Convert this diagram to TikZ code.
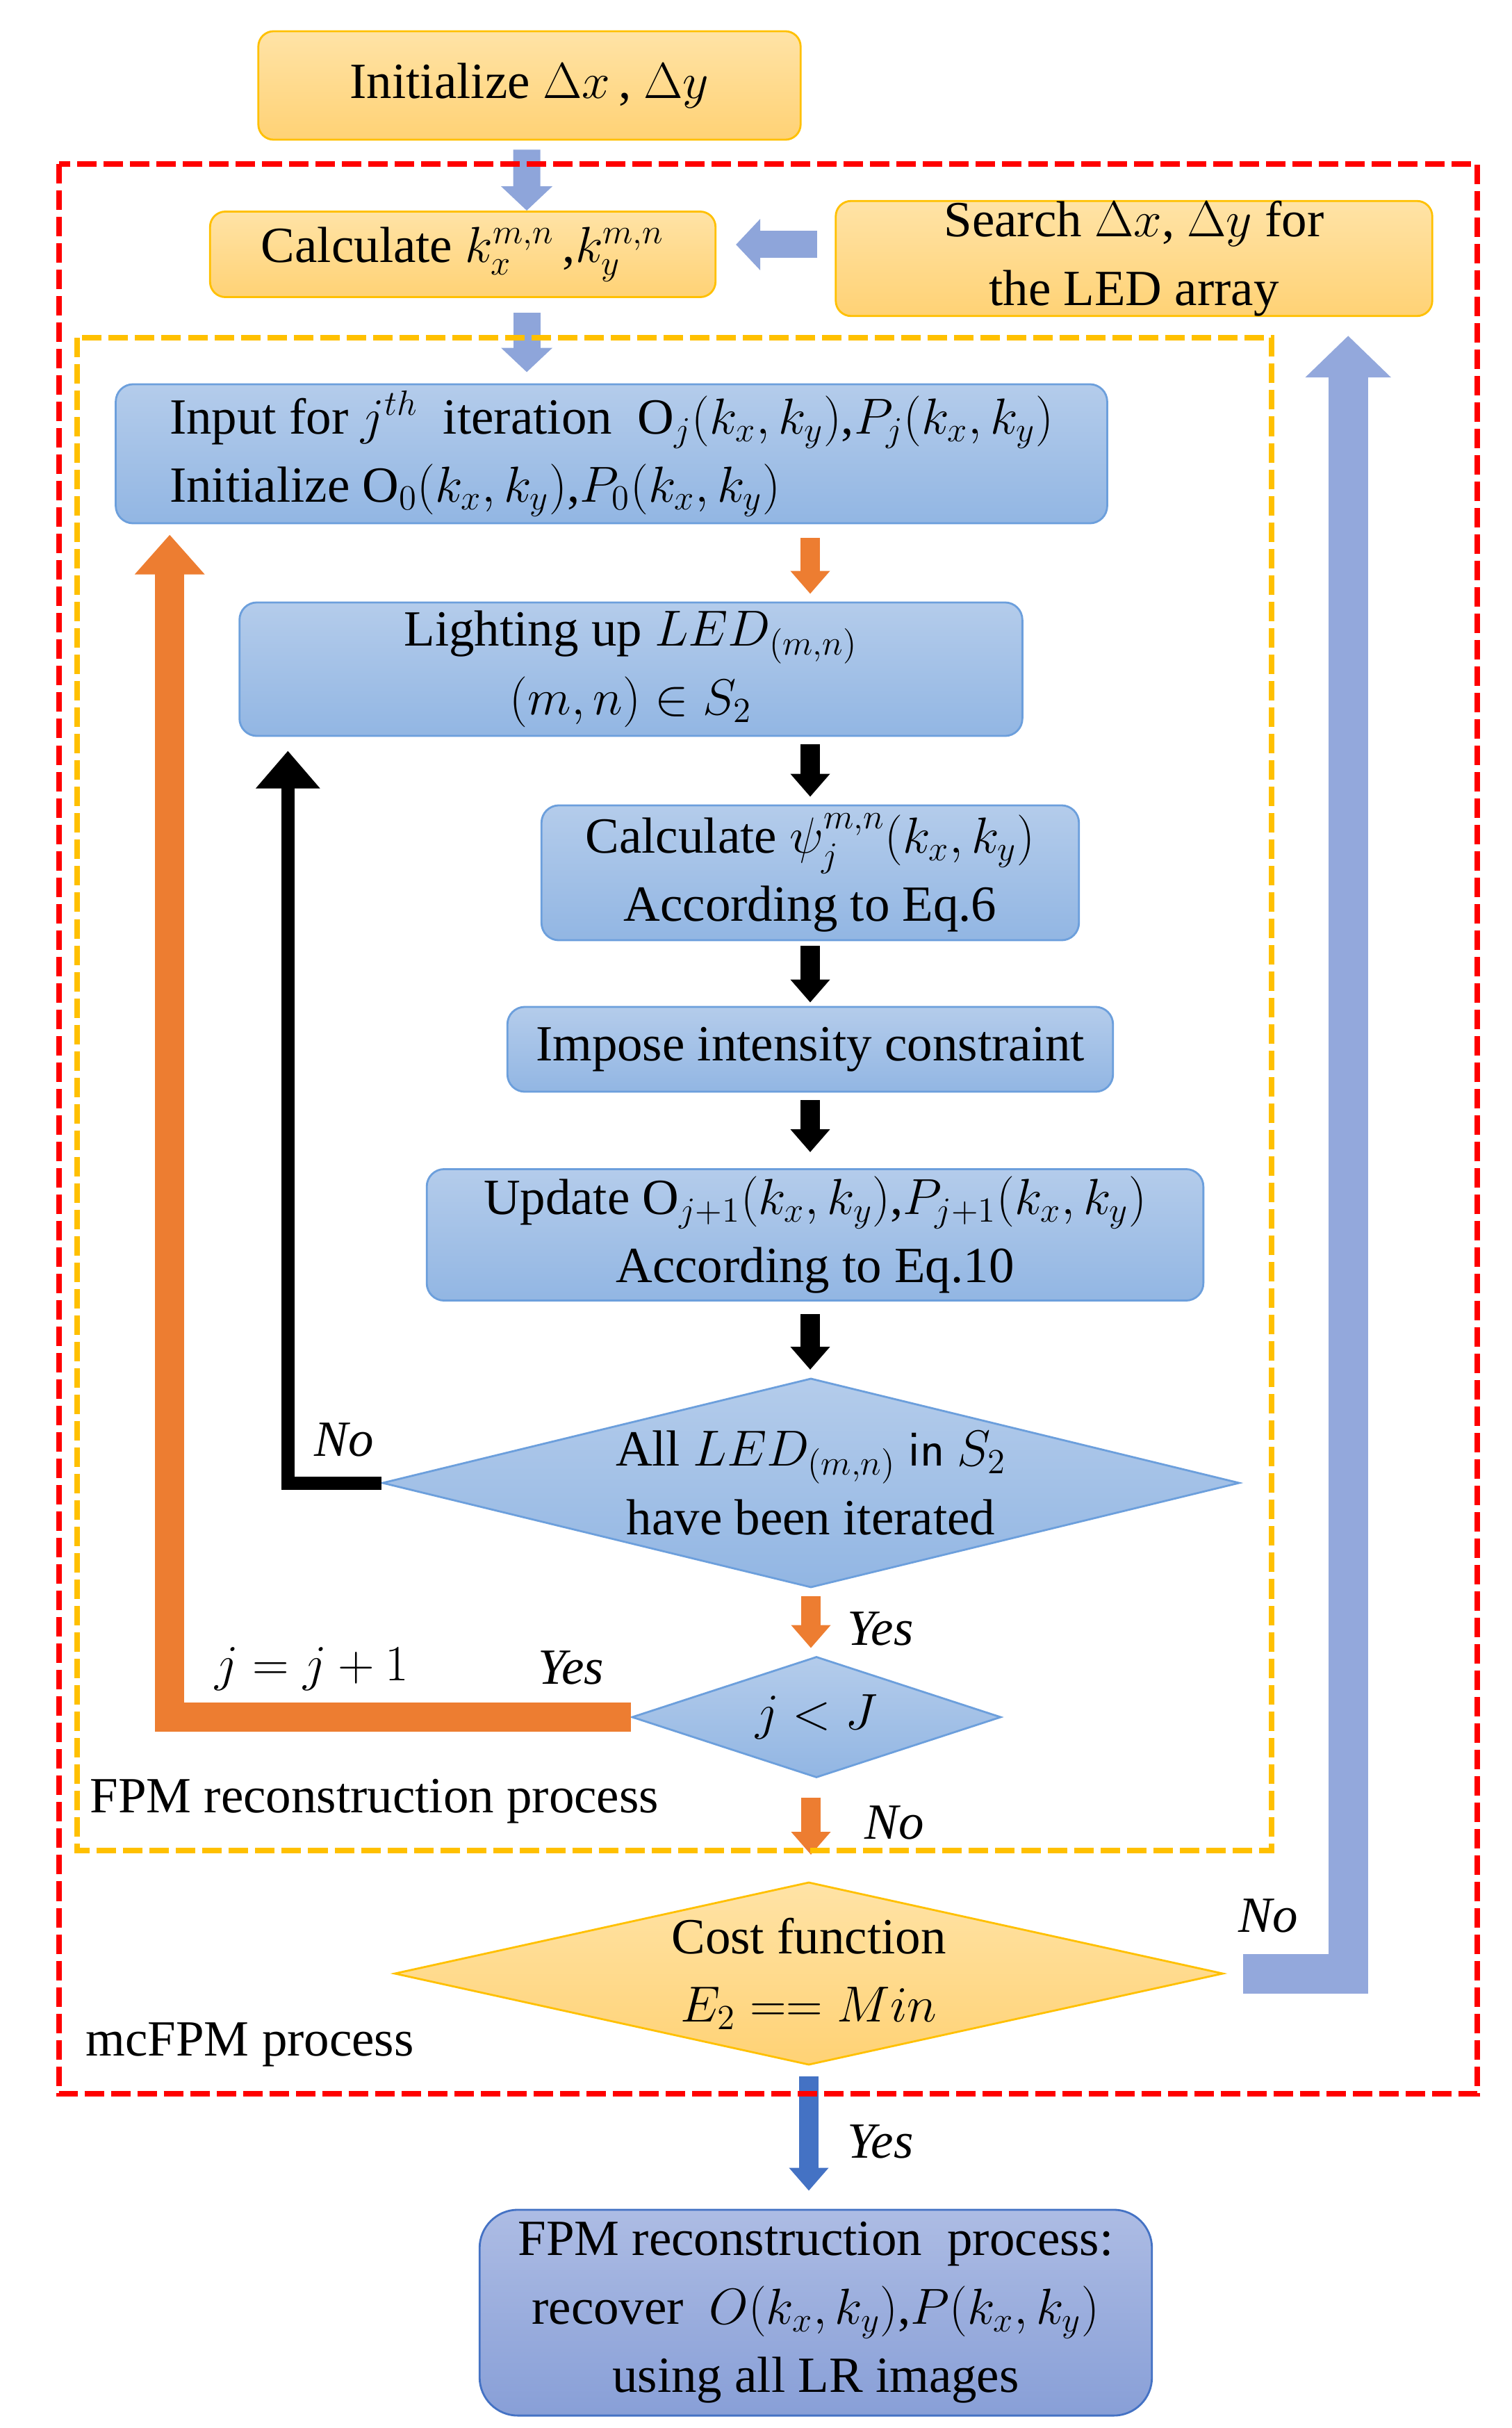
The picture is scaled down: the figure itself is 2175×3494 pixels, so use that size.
\documentclass[tikz,border=0pt]{standalone}
\usepackage{amsmath}
\usepackage{amssymb}
\usepackage{fontspec}
\setmainfont{Liberation Serif}
\usetikzlibrary{shapes.geometric,arrows.meta}

\definecolor{orangetop}{HTML}{FFE3A6}
\definecolor{orangebot}{HTML}{FFD275}
\definecolor{orangeline}{HTML}{FFC000}
\definecolor{bluetop}{HTML}{B4CCEB}
\definecolor{bluebot}{HTML}{92B6E3}
\definecolor{blueline}{HTML}{6C9FDC}
\definecolor{purpletop}{HTML}{ADBCE4}
\definecolor{purplebot}{HTML}{889FD7}
\definecolor{purpleline}{HTML}{4472C4}
\definecolor{arroworange}{HTML}{ED7D31}
\definecolor{arrowblue}{HTML}{8EA5DA}
\definecolor{loopblue}{HTML}{93A8DC}
\definecolor{darkblue}{HTML}{4472C4}
\definecolor{framered}{HTML}{FF0000}
\definecolor{frameyellow}{HTML}{FFC000}

\tikzset{
  every node/.style={font=\fontsize{20.74}{28}\selectfont},
  orangebox/.style={draw=orangeline, line width=0.8pt, rounded corners=0.22cm,
    top color=orangetop, bottom color=orangebot, align=center, inner sep=0pt},
  bluebox/.style={draw=blueline, line width=0.8pt, rounded corners=0.25cm,
    top color=bluetop, bottom color=bluebot, align=center, inner sep=0pt},
  finalbox/.style={draw=purpleline, line width=0.8pt, rounded corners=0.55cm,
    top color=purpletop, bottom color=purplebot, align=center, inner sep=0pt},
  bluediamond/.style={diamond, draw=blueline, line width=0.8pt,
    top color=bluetop, bottom color=bluebot, align=center, inner sep=-0.1cm},
  orangediamond/.style={diamond, draw=orangeline, line width=0.8pt,
    top color=orangetop, bottom color=orangebot, align=center, inner sep=-0.1cm},
  lightarrow/.style={draw=arrowblue, line width=0.39cm, -{Triangle[width=0.72cm,length=0.35cm]}},
  thinarrow/.style={line width=0.28cm, -{Triangle[width=0.55cm,length=0.33cm]}},
  orangeloop/.style={draw=arroworange, line width=0.42cm, line join=miter,
    -{Triangle[width=0.97cm,length=0.57cm]}},
  blackloop/.style={draw=black, line width=0.19cm, line join=miter,
    -{Triangle[width=0.89cm,length=0.54cm]}},
  blueloop/.style={draw=loopblue, line width=0.57cm, line join=miter,
    -{Triangle[width=1.2cm,length=0.6cm]}},
  frame/.style={line width=0.08cm, dash pattern=on 0.28cm off 0.1cm},
}

\begin{document}
\begin{tikzpicture}[x=0.01cm,y=-0.01cm]
\useasboundingbox (0,0) rectangle (2175,3494);

% boxes
\node[orangebox, minimum width=7.8cm, minimum height=1.56cm] (init) at (762,123) {Initialize $\Delta x$\,, $\Delta y$};
\node[orangebox, minimum width=7.27cm, minimum height=1.23cm] (calc) at (666,366) {Calculate $k_x^{m,n}$\,,$k_y^{m,n}$};
\node[orangebox, minimum width=8.58cm, minimum height=1.6cm] (search) at (1632,372) {Search $\Delta x$, $\Delta y$ for\\the LED array};
\node[bluebox, minimum width=14.26cm, minimum height=2cm, align=left] (input) at (880,653)
  {Input for $j^{th}$\ \ iteration\ \ $\mathrm{O}_j\!\left(k_x,k_y\right)$,$P_j\!\left(k_x,k_y\right)$\\
   Initialize $\mathrm{O}_0\!\left(k_x,k_y\right)$,$P_0\!\left(k_x,k_y\right)$};
\node[bluebox, minimum width=11.26cm, minimum height=1.92cm] (lighting) at (908,963) {Lighting up $LED_{(m,n)}$\\$(m,n)\in S_2$};
\node[bluebox, minimum width=7.73cm, minimum height=1.94cm] (psi) at (1166,1256) {Calculate $\psi_j^{m,n}\!\left(k_x,k_y\right)$\\According to Eq.6};
\node[bluebox, minimum width=8.71cm, minimum height=1.22cm] (impose) at (1166,1510) {Impose intensity constraint};
\node[bluebox, minimum width=11.17cm, minimum height=1.89cm] (update) at (1173,1777)
  {Update $\mathrm{O}_{j+1}\!\left(k_x,k_y\right)$,$P_{j+1}\!\left(k_x,k_y\right)$\\According to Eq.10};
\node[bluediamond, shape aspect=4.1, minimum width=12.33cm, minimum height=3.01cm] (alldone) at (1167,2134) {All $LED_{(m,n)}$ {\sffamily in} $S_2$\\have been iterated};
\node[bluediamond, shape aspect=3.05, minimum width=5.31cm, minimum height=1.74cm] (jcheck) at (1175,2471) {$j<J$};
\node[orangediamond, shape aspect=4.53, minimum width=11.92cm, minimum height=2.63cm] (cost) at (1164,2840) {Cost function\\$E_2 == Min$};
\node[finalbox, minimum width=9.67cm, minimum height=2.96cm] (final) at (1174,3328)
  {FPM reconstruction\ \ process:\\recover\ \ $O\!\left(k_x,k_y\right)$,$P\!\left(k_x,k_y\right)$\\using all LR images};

% straight arrows
\coordinate (calcout) at ([xshift=0.92cm]calc.south);
\coordinate (searchout) at ([yshift=0.2cm]search.west);
\draw[lightarrow, shorten <=0.13cm] ([xshift=-0.04cm]init.south) -- ([xshift=0.92cm]calc.north);
\draw[lightarrow, shorten <=0.21cm, shorten >=0.16cm] (calcout) -- (calcout |- input.north);
\draw[lightarrow, shorten <=0.25cm, shorten >=0.28cm] (searchout) -- (searchout -| calc.east);
\draw[thinarrow, arroworange, shorten <=0.2cm, shorten >=0.11cm] (input.south -| psi.north) -- (lighting.north -| psi.north);
\draw[thinarrow, shorten <=0.11cm, shorten >=0.11cm] (lighting.south -| psi.north) -- (psi.north);
\draw[thinarrow, shorten <=0.07cm, shorten >=0.05cm] (psi.south) -- (impose.north);
\draw[thinarrow, shorten <=0.11cm, shorten >=0.23cm] (impose.south) -- (update.north -| impose.south);
\draw[thinarrow, shorten <=0.18cm, shorten >=0.11cm] (update.south -| impose.south) -- (alldone.north -| impose.south);
\draw[thinarrow, arroworange, shorten <=0.11cm, shorten >=0.11cm] (alldone.south) -- (jcheck.north -| alldone.south);
\draw[thinarrow, arroworange, shorten <=0.27cm, shorten >=0.38cm] (jcheck.south -| alldone.south) -- (cost.north -| alldone.south);
\draw[thinarrow, darkblue, shorten <=0.15cm, shorten >=0.26cm] (cost.south) -- (final.north -| cost.south);

% loops back
\draw[blackloop] (alldone.west) -| ([xshift=0.71cm,yshift=-0.2cm]lighting.south west);
\draw[orangeloop] (jcheck.west) -| ([xshift=0.79cm,yshift=-0.15cm]input.south west);
\draw[blueloop] ([xshift=0.27cm]cost.east) -| ([xshift=3.08cm,yshift=-0.27cm]search.south);

% labels
\node (nodone) at (495,2072) {\textit{No}};
\node (yesdone) at (1267,2344) {\textit{Yes}};
\node (jstep) at (449,2402) {$j=j+1$};
\node (yesj) at (822,2400) {\textit{Yes}};
\node (noj) at (1287,2623) {\textit{No}};
\node[anchor=west, inner sep=0pt] (fpmlabel) at (129,2592) {FPM reconstruction process};
\node (nocost) at (1825,2757) {\textit{No}};
\node[anchor=west, inner sep=0pt] (mclabel) at (123,2942) {mcFPM process};
\node (yescost) at (1267,3082) {\textit{Yes}};

% dashed frames
\draw[frame, framered] (85,236) rectangle (2126,3013);
\draw[frame, frameyellow] (111,486) rectangle (1830,2663);
\end{tikzpicture}
\end{document}
